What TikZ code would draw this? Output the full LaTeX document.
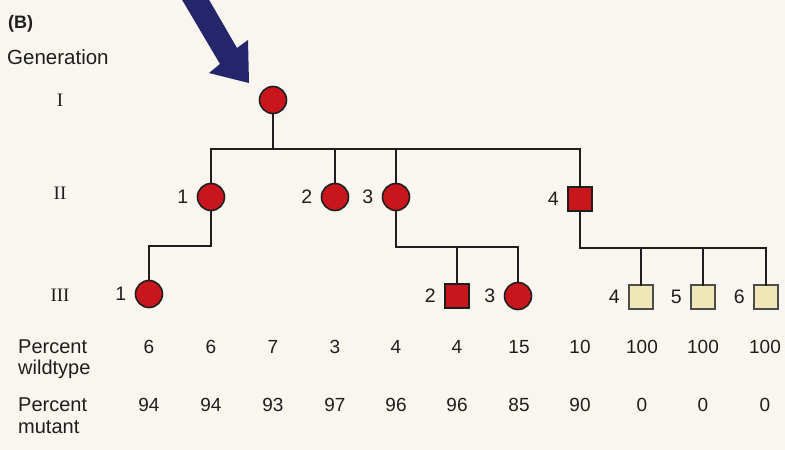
\documentclass[tikz,border=0pt]{standalone}
\usepackage{fontspec}
\setmainfont{Liberation Sans}
\newfontfamily\romanfont{Liberation Serif}
\definecolor{bgcol}{HTML}{F8F6EF}
\definecolor{redfill}{HTML}{C9161C}
\definecolor{palefill}{HTML}{EFE7B6}
\definecolor{arrowcol}{HTML}{24256B}
\definecolor{inkcol}{HTML}{1E1E1E}
\begin{document}
\begin{tikzpicture}[x=1pt,y=-1pt,
  conn/.style={line width=2.8pt, draw=inkcol, line cap=rect, line join=miter},
  fem/.style={circle, draw=inkcol, line width=1.6pt, fill=redfill, minimum size=27pt, inner sep=0pt},
  malered/.style={rectangle, draw=inkcol, line width=1.6pt, fill=redfill, minimum size=24pt, inner sep=0pt},
  malepale/.style={rectangle, draw=black!70, line width=1.6pt, fill=palefill, minimum size=24pt, inner sep=0pt},
  idlab/.style={label={[label distance=5pt, text=inkcol, font=\fontsize{19.5}{19.5}\selectfont]left:#1}},
  gen/.style={text=inkcol, font=\romanfont\fontsize{19}{19}\selectfont, anchor=base},
  num/.style={text=inkcol, font=\fontsize{19}{19}\selectfont, anchor=base},
  rowlab/.style={text=inkcol, font=\fontsize{20}{20}\selectfont, anchor=base west, inner sep=0pt}
]
\fill[bgcol] (0,0) rectangle (785,450);
\useasboundingbox (0,0) rectangle (785,450);

% titles
\node[text=inkcol, font=\bfseries\fontsize{18}{18}\selectfont, anchor=base west, inner sep=0pt] (title) at (8,28) {(B)};
\node[text=inkcol, font=\fontsize{20.5}{20.5}\selectfont, anchor=base west, inner sep=0pt] (genhead) at (7,64) {Generation};

% generation numerals
\node[gen] (gI) at (60,106) {I};
\node[gen] (gII) at (60,199) {II};
\node[gen] (gIII) at (60,301) {III};

% pointer arrow
\fill[arrowcol] (181,-2) -- (220,64) -- (209,73) -- (249,83) -- (248,40) -- (237,48) -- (208,-2) -- cycle;

% individuals
\node[fem] (I1) at (273,100) {};
\node[fem, idlab=1] (II1) at (211,197) {};
\node[fem, idlab=2] (II2) at (335,197) {};
\node[fem, idlab=3] (II3) at (396,197) {};
\node[malered, idlab=4] (II4) at (580,199) {};
\node[fem, idlab=1] (III1) at (149,294) {};
\node[malered, idlab=2] (III2) at (457,296) {};
\node[fem, idlab=3] (III3) at (518,296) {};
\node[malepale, idlab=4] (III4) at (641,297) {};
\node[malepale, idlab=5] (III5) at (703,297) {};
\node[malepale, idlab=6] (III6) at (766,297) {};

% junction levels
\coordinate (sib) at (0,149);
\coordinate (j1) at (0,246);
\coordinate (j2) at (0,247);
\coordinate (j3) at (0,248);

% connectors
\draw[conn] (I1.south) -- (I1 |- sib);
\draw[conn] (II1 |- sib) -- (II4 |- sib);
\draw[conn] (II1 |- sib) -- (II1.north);
\draw[conn] (II2 |- sib) -- (II2.north);
\draw[conn] (II3 |- sib) -- (II3.north);
\draw[conn] (II4 |- sib) -- (II4.north);

\draw[conn] (II1.south) -- (II1 |- j1) -- (III1 |- j1) -- (III1.north);
\draw[conn] (II3.south) -- (II3 |- j2) -- (III3 |- j2) -- (III3.north);
\draw[conn] (III2 |- j2) -- (III2.north);
\draw[conn] (II4.south) -- (II4 |- j3) -- (III6 |- j3) -- (III6.north);
\draw[conn] (III4 |- j3) -- (III4.north);
\draw[conn] (III5 |- j3) -- (III5.north);

% table
\node[rowlab] (pw) at (18,353) {Percent};
\node[rowlab] (wt) at (18,374) {wildtype};
\node[rowlab] (pm) at (18,411) {Percent};
\node[rowlab] (mt) at (18,433) {mutant};

\foreach \x/\w/\m [count=\i] in {149/6/94, 211/6/94, 273/7/93, 335/3/97, 396/4/96, 457/4/96, 519/15/85, 580/10/90, 642/100/0, 703/100/0, 765/100/0} {
  \node[num] (w\i) at (\x,353) {\w};
  \node[num] (m\i) at (\x,411) {\m};
}
\end{tikzpicture}
\end{document}
